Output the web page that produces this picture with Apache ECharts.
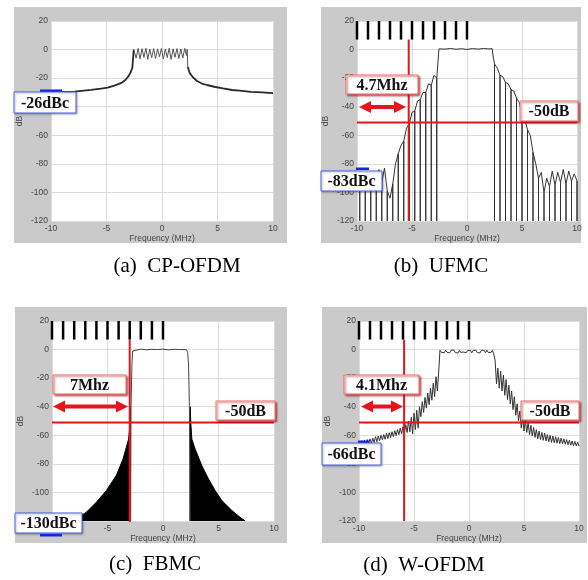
<!DOCTYPE html>
<html>
<head>
<meta charset="utf-8">
<script src="https://cdn.jsdelivr.net/npm/echarts@6/dist/echarts.min.js"></script>
<style>
html,body{margin:0;padding:0;background:#fff;}
#chart{width:588px;height:580px;}
</style>
</head>
<body>
<div id="chart"></div>
<script>
// ---- data: [MHz, dB] ----
// (a) CP-OFDM
var skirtLeftA = [[-10,-30.1],[-9,-29.8],[-7.9,-29.4],[-6.4,-28.2],[-5.5,-27.4],[-4.9,-26.6],[-4.3,-25.2],[-3.7,-23.5],[-3.3,-21.3],[-3.0,-18.4],[-2.8,-15.5],[-2.67,-12.5],[-2.6,-6],[-2.55,0]];
var bandA = [[-2.55,0],[-2.5,0.5],[-2.33,-6],[-2.15,0.8],[-1.98,-6.5],[-1.8,0.6],[-1.63,-5.5],[-1.45,0.9],[-1.28,-6.8],[-1.1,0.4],[-0.93,-5.8],[-0.75,0.7],[-0.58,-6.2],[-0.4,0.5],[-0.23,-5],[-0.05,0.8],[0.12,-6.5],[0.3,0.3],[0.47,-5.6],[0.65,0.9],[0.82,-6.9],[1.0,0.5],[1.17,-5.4],[1.35,0.7],[1.52,-6.3],[1.7,0.4],[1.87,-5.9],[2.05,0.8],[2.2,-4],[2.27,0.3],[2.32,-12]];
var skirtRightA = [[2.32,-12],[2.5,-16.5],[2.8,-19.5],[3.15,-22],[3.6,-23.8],[4.05,-24.8],[4.8,-26.2],[5.5,-27.2],[6.3,-28.3],[7,-28.8],[8,-29.6],[9,-30],[10,-30.5]];

// (b) UFMC envelope and null positions
var envB = [[-10,-93],[-9.75,-97],[-9.5,-89],[-9.25,-95],[-9,-87],[-8.75,-94],[-8.5,-86],[-8.25,-96],[-8,-84],[-7.75,-93],[-7.5,-83],[-7.25,-99],[-7,-104],[-6.75,-94],[-6.5,-80],[-6.25,-73],[-6,-67],[-5.75,-64],[-5.5,-55],[-5.25,-52],[-5,-44],[-4.75,-43],[-4.5,-36],[-4.25,-35],[-4,-30],[-3.75,-30],[-3.5,-24],[-3.25,-25],[-3,-18],[-2.75,-20],[-2.65,-10],[-2.55,0.5],
  [-2,0.3],[-1.5,0.8],[-1,0.2],[-0.5,0.6],[0,0.1],[0.5,0.7],[1,0.3],[1.5,0.8],[2,0.4],[2.28,0.7],
  [2.4,-6],[2.5,-10],[2.75,-13],[3,-18],[3.25,-19],[3.5,-23],[3.75,-24],[4,-28],[4.25,-29],[4.5,-34],[4.75,-37],[5,-46],[5.25,-49],[5.5,-56],[5.75,-60],[6,-72],[6.25,-80],[6.5,-90],[6.75,-86],[7,-100],[7.25,-90],[7.5,-96],[7.75,-85],[8,-95],[8.25,-86],[8.5,-93],[8.75,-84],[9,-94],[9.25,-85],[9.5,-92],[9.75,-87],[10,-92]];
var nullsB = [-9.75,-9.25,-8.75,-8.25,-7.75,-7.25,-6.75,-6.25,-5.75,-5.25,-4.75,-4.25,-3.75,-3.25,-2.75,
  2.5,3,3.5,4,4.5,5,5.5,6,6.5,7,7.5,8,8.5,9,9.5,10];

// (c) FBMC
var topC = [[-2.92,-120],[-2.88,-40],[-2.8,-10],[-2.73,-1],[-2.65,0],[-2,0.3],[-1.5,-0.2],[-1,0.2],[-0.5,0],[0,0.3],[0.5,-0.2],[1,0.2],[1.5,0],[2.1,0],[2.22,-2],[2.3,-10],[2.38,-40],[2.45,-120]];
var fillLeftC = [[-8.3,-120],[-7.8,-118.4],[-6.9,-113.8],[-6,-106.8],[-5.1,-98.7],[-4.2,-88],[-3.6,-76.6],[-3.1,-62.7],[-3.0,-55],[-2.95,-40],[-2.92,-120]];
var fillRightC = [[2.43,-120],[2.45,-40],[2.5,-51],[2.6,-62.7],[2.9,-69.7],[3.5,-81.3],[4.1,-90.6],[4.7,-98.7],[5.3,-105.7],[6.2,-112.6],[6.8,-116.5],[7.4,-120]];
var gapsC = [[-5.83,-114.7],[-4.3,-100.9],[-3.72,-107],[-3.5,-103],[2.73,-94],[3.33,-107],[3.63,-109],[4.23,-103],[5.74,-115]];

// (d) W-OFDM
var curveD = [[-10,-64],[-9.875,-67],[-9.75,-63.8],[-9.625,-66.8],[-9.5,-63.5],[-9.375,-66.5],[-9.25,-63],[-9.125,-66],[-9,-62.5],[-8.875,-65.5],[-8.75,-62],[-8.625,-65],[-8.5,-61],[-8.375,-64.5],[-8.25,-60.5],[-8.125,-63.8],[-8,-60],[-7.875,-63.2],[-7.75,-59.5],[-7.625,-62.8],[-7.5,-58.8],[-7.375,-62.3],[-7.25,-58.2],[-7.125,-61.6],[-7,-57.5],[-6.875,-61],[-6.75,-56.8],[-6.625,-60.2],[-6.5,-56],[-6.375,-59.6],[-6.25,-55],[-6.125,-59],[-6,-54],[-5.875,-58.5],[-5.75,-52.5],[-5.625,-58],[-5.5,-50],[-5.375,-57.5],[-5.25,-47.5],[-5.125,-59],[-5,-44.5],[-4.875,-56],[-4.75,-42.5],[-4.625,-55],[-4.5,-40],[-4.375,-47],[-4.25,-36.5],[-4.125,-44],[-4,-33.5],[-3.875,-41],[-3.75,-30.5],[-3.625,-38.5],[-3.5,-27],[-3.375,-35.5],[-3.25,-23.5],[-3.125,-33],[-3,-19],[-2.875,-29],[-2.75,-15],
  [-2.64,-0.5],[-2.5,-2],[-2.375,-0.6],[-2.25,-2.2],[-2.125,-0.4],[-2,-1.9],[-1.875,-0.7],[-1.75,-2.3],[-1.625,-0.5],[-1.5,-1.8],[-1.375,-0.3],[-1.25,-2.1],[-1.125,-0.8],[-1,-2.4],[-0.875,-0.5],[-0.75,-2],[-0.625,-0.6],[-0.5,-1.7],[-0.375,-0.4],[-0.25,-2.2],[-0.125,-0.7],[0,-2],[0.125,-0.5],[0.25,-2.3],[0.375,-0.6],[0.5,-1.9],[0.625,-0.4],[0.75,-2.1],[0.875,-0.8],[1,-2.4],[1.125,-0.5],[1.25,-1.8],[1.375,-0.6],[1.5,-2.2],[1.625,-0.4],[1.75,-2],[1.875,-0.7],[2,-2.1],[2.125,-0.5],[2.25,-3],
  [2.375,-8],[2.5,-24],[2.625,-13],[2.75,-27],[2.875,-15],[3,-29],[3.125,-18],[3.25,-32],[3.375,-21],[3.5,-35],[3.625,-25],[3.75,-38],[3.875,-29],[4,-42],[4.125,-33],[4.25,-46],[4.375,-38],[4.5,-50],[4.625,-43],[4.75,-55],[4.875,-47],[5,-57],[5.125,-49],[5.25,-58],[5.375,-51],[5.5,-59.5],[5.625,-53],[5.75,-60.5],[5.875,-54.5],[6,-61.5],[6.125,-56],[6.25,-62.5],[6.375,-57],[6.5,-63],[6.625,-58],[6.75,-63.5],[6.875,-58.5],[7,-64],[7.125,-59.5],[7.25,-64.5],[7.375,-60],[7.5,-65],[7.625,-60.5],[7.75,-65.3],[7.875,-61],[8,-65.5],[8.125,-61.5],[8.25,-65.8],[8.375,-62],[8.5,-66],[8.625,-62.5],[8.75,-66.3],[8.875,-63],[9,-66.6],[9.125,-63.5],[9.25,-66.9],[9.375,-64],[9.5,-67.2],[9.625,-64.3],[9.75,-67.4],[9.875,-64.8],[10,-67.6]];

// top marker bars and red reference lines
var barX = [-10,-9,-8,-7,-6,-5,-4,-3,-2,-1,0];
var barDB = [20, 7];
var limitDB = -51;
var edgeX = { b: -5.3, c: -3.0, d: -5.9 };
var titles = ['(a)  CP-OFDM', '(b)  UFMC', '(c)  FBMC', '(d)  W-OFDM'];

var RED = '#e8141b';
var BLUE = '#1228e0';

function withNulls(env, nulls) {
  var out = [];
  env.forEach(function (p) {
    out.push(p);
    if (nulls.indexOf(p[0]) >= 0) {
      out.push([p[0], -120]);
      out.push(p);
    }
  });
  return out;
}

var grids = [
  { left: 51, top: 21, width: 222, height: 200 },
  { left: 357, top: 21, width: 220, height: 200 },
  { left: 52, top: 321, width: 222, height: 200 },
  { left: 359, top: 321, width: 220, height: 200 }
];

var xAxes = [], yAxes = [];
grids.forEach(function (g, i) {
  g.show = true; g.backgroundColor = '#fff'; g.borderWidth = 0;
  xAxes.push({
    gridIndex: i, type: 'value', min: -10, max: 10, interval: 5,
    name: 'Frequency (MHz)', nameLocation: 'middle', nameGap: 13,
    nameTextStyle: { fontSize: 8.5, color: '#444', fontFamily: 'Liberation Sans' },
    axisLine: { show: false }, axisTick: { show: false },
    axisLabel: { fontSize: 8.5, color: '#444', margin: 3, fontFamily: 'Liberation Sans' },
    splitLine: { lineStyle: { color: '#dcdcdc', width: 1 } }
  });
  yAxes.push({
    gridIndex: i, type: 'value', min: -120, max: 20, interval: 20,
    name: 'dB', nameLocation: 'middle', nameGap: 27, nameRotate: 90,
    nameTextStyle: { fontSize: 8.5, color: '#444', fontFamily: 'Liberation Sans' },
    axisLine: { show: false }, axisTick: { show: false },
    axisLabel: { fontSize: 8.5, color: '#444', margin: 3, fontFamily: 'Liberation Sans' },
    splitLine: { lineStyle: { color: '#dcdcdc', width: 1 } }
  });
});

function line(i, data, color, width, extra) {
  var s = {
    type: 'line', xAxisIndex: i, yAxisIndex: i, data: data,
    symbol: 'none', showSymbol: false, silent: true,
    lineStyle: { color: color, width: width }
  };
  for (var k in extra) s[k] = extra[k];
  return s;
}

function segs(i, data, color, width) {
  return {
    type: 'custom', xAxisIndex: i, yAxisIndex: i, data: data, silent: true,
    renderItem: function (params, api) {
      var p1 = api.coord([api.value(0), api.value(1)]);
      var p2 = api.coord([api.value(0), api.value(2)]);
      return { type: 'line', shape: { x1: p1[0], y1: p1[1], x2: p2[0], y2: p2[1] },
        style: { stroke: color, lineWidth: width } };
    }
  };
}

var barData = barX.map(function (x) { return [x, barDB[0], barDB[1]]; });
var gapData = gapsC.map(function (p) { return [p[0], -120, p[1]]; });

var series = [
  line(0, skirtLeftA, '#2a2a2a', 1.8),
  line(0, bandA, '#555', 1),
  line(0, skirtRightA, '#2a2a2a', 1.8),

  line(1, withNulls(envB, nullsB), '#333', 1),
  segs(1, barData, '#000', 2.5),
  line(1, [[edgeX.b, barDB[1]], [edgeX.b, -120]], RED, 2),
  line(1, [[-10, limitDB], [10, limitDB]], RED, 2),

  line(2, fillLeftC, '#000', 1, { areaStyle: { color: '#000', opacity: 1, origin: 'start' } }),
  line(2, fillRightC, '#000', 1, { areaStyle: { color: '#000', opacity: 1, origin: 'start' } }),
  segs(2, gapData, '#fff', 1.3),
  line(2, topC, '#444', 1),
  segs(2, barData, '#000', 2.5),
  line(2, [[edgeX.c, barDB[1]], [edgeX.c, -121]], RED, 2),
  line(2, [[-10, limitDB], [10, limitDB]], RED, 2),

  line(3, curveD, '#333', 1),
  segs(3, barData, '#000', 2.5),
  line(3, [[edgeX.d, barDB[1]], [edgeX.d, -120]], RED, 2),
  line(3, [[-10, limitDB], [10, limitDB]], RED, 2)
];

// annotation graphics (drawn on their own layer above the plots)
function onTop(el) { el.zlevel = 1; el.z = 100; return el; }
function panel(x, y, w, h) {
  return { type: 'rect', z: -10, shape: { x: x, y: y, width: w, height: h }, style: { fill: '#cacaca' } };
}
function box(x, y, w, h, text, border, shadow) {
  return [
    onTop({ type: 'rect', shape: { x: x, y: y, width: w, height: h },
      style: { fill: '#fff', stroke: border, lineWidth: 1,
        shadowBlur: 2, shadowColor: shadow ? 'rgba(150,20,20,0.6)' : 'rgba(0,0,0,0.3)',
        shadowOffsetX: shadow ? 1.5 : 1, shadowOffsetY: shadow ? 1.5 : 1 } }),
    onTop({ type: 'text', style: { x: x + w / 2, y: y + h / 2 + 1, text: text, align: 'center', verticalAlign: 'middle',
      font: 'bold 16px "Liberation Serif"', fill: '#111' } })
  ];
}
function arrow(x1, x2, cy) {
  var h = 12, H = 6, s = 2;
  return onTop({ type: 'polygon', shape: { points: [
    [x1, cy], [x1 + h, cy - H], [x1 + h, cy - s], [x2 - h, cy - s], [x2 - h, cy - H],
    [x2, cy], [x2 - h, cy + H], [x2 - h, cy + s], [x1 + h, cy + s], [x1 + h, cy + H]] },
    style: { fill: RED } });
}
function marker(x, y, w) {
  return onTop({ type: 'rect', shape: { x: x, y: y, width: w, height: 2.5 }, style: { fill: BLUE } });
}
function caption(x, y, text) {
  return onTop({ type: 'text', style: { x: x, y: y, text: text, align: 'center', verticalAlign: 'middle',
    font: '21px "Liberation Serif"', fill: '#000' } });
}

var graphics = [
  panel(14, 7, 273, 236), panel(321, 7, 260, 236), panel(15, 307, 272, 236), panel(322, 307, 265, 236),
  marker(40, 89.5, 22), box(14, 92, 62, 21, '-26dBc', '#4a5ee6', false),
  box(346, 75, 72, 19, '4.7Mhz', '#e66', true), arrow(359, 406, 107),
  box(520, 101, 58, 20, '-50dB', '#e66', true),
  marker(356, 167.5, 13), box(321, 171, 61, 20, '-83dBc', '#4a5ee6', false),
  box(53, 375, 73, 19, '7Mhz', '#e66', true), arrow(53, 128, 406.5),
  box(216, 401, 59, 19, '-50dB', '#e66', true),
  box(15, 513, 67, 20, '-130dBc', '#4a5ee6', false), marker(40, 534, 22),
  box(344, 375, 75, 19, '4.1Mhz', '#e66', true), arrow(361, 403, 406.5),
  box(521, 401, 58, 19, '-50dB', '#e66', true),
  marker(358, 440.5, 11), box(322, 443, 59, 22, '-66dBc', '#4a5ee6', false),
  caption(177, 266, titles[0]), caption(441, 266, titles[1]),
  caption(155, 564, titles[2]), caption(424, 565, titles[3])
];
// flatten nested box arrays
graphics = [].concat.apply([], graphics);

var chart = echarts.init(document.getElementById('chart'));
chart.setOption({
  animation: false,
  backgroundColor: '#fff',
  grid: grids,
  xAxis: xAxes,
  yAxis: yAxes,
  series: series,
  graphic: graphics
});
</script>
</body>
</html>
